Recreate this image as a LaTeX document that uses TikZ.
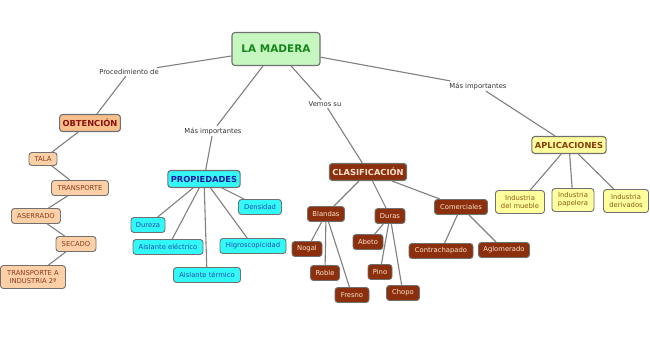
\documentclass[tikz,border=0pt]{standalone}
\usepackage{fontspec}
\setmainfont{DejaVu Sans}
\definecolor{edgec}{HTML}{808080}
\definecolor{bord}{HTML}{707070}
\definecolor{grfill}{HTML}{C6F7C0}
\definecolor{grtext}{HTML}{17861B}
\definecolor{obfill}{HTML}{F9C08C}
\definecolor{obtext}{HTML}{8A0F0F}
\definecolor{orfill}{HTML}{FDD0A8}
\definecolor{ortext}{HTML}{8B3A1E}
\definecolor{cyfill}{HTML}{33F8F8}
\definecolor{cytext}{HTML}{1F4FB0}
\definecolor{prtext}{HTML}{1A1AA6}
\definecolor{brfill}{HTML}{8B2F0C}
\definecolor{brtext}{HTML}{FCE4CF}
\definecolor{yefill}{HTML}{FFFF9E}
\definecolor{yetext}{HTML}{8B5A14}
\definecolor{aptext}{HTML}{8B3A08}
\begin{document}
\begin{tikzpicture}[x=1pt,y=-1pt,
  box/.style={draw=bord,line width=0.9pt,rounded corners=3pt,inner xsep=2pt,inner ysep=2pt,
    font=\fontsize{6.8}{7.8}\selectfont,align=center,minimum height=15pt},
  mainbox/.style={box,line width=1.1pt,font=\bfseries\fontsize{8.3}{10}\selectfont,minimum height=17pt,inner xsep=3pt},
  orbox/.style={box,fill=orfill,text=ortext},
  cybox/.style={box,fill=cyfill,text=cytext},
  brbox/.style={box,fill=brfill,text=brtext},
  yebox/.style={box,fill=yefill,text=yetext,minimum height=23pt},
  lab/.style={font=\fontsize{6.8}{7.8}\selectfont,text=black!80,inner sep=1.5pt,fill=white},
  edge/.style={draw=edgec,line width=1.1pt}]
\useasboundingbox[fill=white] (0,0) rectangle (650,337);
% main
\node[box,fill=grfill,text=grtext,line width=1.1pt,font=\bfseries\fontsize{10.5}{12}\selectfont,minimum width=88pt,minimum height=33pt] (mad) at (276,49) {LA MADERA};
% labels
\node[lab] (l1) at (129,72) {Procedimiento de};
\node[lab] (l2) at (213,131) {Más importantes};
\node[lab] (l3) at (325,104) {Vemos su};
\node[lab] (l4) at (478,86) {Más importantes};
% obtencion
\node[mainbox,fill=obfill,text=obtext] (obt) at (90,123) {OBTENCIÓN};
\node[orbox,minimum width=28pt,minimum height=13pt] (tala) at (43,159) {TALA};
\node[orbox,minimum width=57pt] (tra) at (80,188) {TRANSPORTE};
\node[orbox,minimum width=49pt] (ase) at (36,216) {ASERRADO};
\node[orbox,minimum width=40pt] (sec) at (76,244) {SECADO};
\node[orbox,minimum width=65pt,minimum height=23pt,inner ysep=1pt] (tra2) at (33,277) {TRANSPORTE A\\INDUSTRIA 2ª};
% propiedades
\node[mainbox,fill=cyfill,text=prtext] (pro) at (204,179) {PROPIEDADES};
\node[cybox,minimum width=34pt] (dur) at (148,225) {Dureza};
\node[cybox,minimum width=70pt] (aie) at (168,247) {Aislante eléctrico};
\node[cybox,minimum width=67pt] (ait) at (207,275) {Aislante térmico};
\node[cybox,minimum width=43pt] (den) at (260,207) {Densidad};
\node[cybox,minimum width=66pt] (hig) at (253,246) {Higroscopicidad};
% clasificacion
\node[mainbox,fill=brfill,text=brtext] (cla) at (368,172) {CLASIFICACIÓN};
\node[brbox,minimum width=37pt] (bla) at (326,214) {Blandas};
\node[brbox,minimum width=30pt] (dura) at (390,216) {Duras};
\node[brbox,minimum width=53pt] (com) at (461,207) {Comerciales};
\node[brbox,minimum width=30pt] (nog) at (307,249) {Nogal};
\node[brbox,minimum width=29pt] (rob) at (325,273) {Roble};
\node[brbox,minimum width=34pt] (fre) at (352,295) {Fresno};
\node[brbox,minimum width=30pt] (abe) at (368,242) {Abeto};
\node[brbox,minimum width=24pt] (pin) at (380,272) {Pino};
\node[brbox,minimum width=33pt] (cho) at (403,293) {Chopo};
\node[brbox,minimum width=64pt] (con) at (441,251) {Contrachapado};
\node[brbox,minimum width=51pt] (agl) at (504,250) {Aglomerado};
% aplicaciones
\node[mainbox,fill=yefill,text=aptext] (apl) at (569,145) {APLICACIONES};
\node[yebox,minimum width=49pt] (in1) at (520,202) {Industria\\del mueble};
\node[yebox,minimum width=42pt] (in2) at (573,200) {Industria\\papelera};
\node[yebox,minimum width=45pt] (in3) at (626,201) {Industria\\derivados};
% edges
\path[edge] (mad) -- (l1) (l1) -- (obt);
\path[edge] (obt) -- (tala) (tala) -- (tra) (tra) -- (ase) (ase) -- (sec) (sec) -- (tra2);
\path[edge] (mad) -- (l2) (l2) -- (pro);
\path[edge] (pro) -- (dur) (pro) -- (aie) (pro) -- (ait) (pro) -- (hig) (pro) -- (den);
\path[edge] (mad) -- (l3) (l3) -- (cla);
\path[edge] (cla) -- (bla) (cla) -- (dura) (cla) -- (com);
\path[edge] (bla) -- (nog) (bla) -- (rob) (bla) -- (fre);
\path[edge] (dura) -- (abe) (dura) -- (pin) (dura) -- (cho);
\path[edge] (com) -- (con) (com) -- (agl);
\path[edge] (mad) -- (l4) (l4) -- (apl);
\path[edge] (apl) -- (in1) (apl) -- (in2) (apl) -- (in3);
\end{tikzpicture}
\end{document}
